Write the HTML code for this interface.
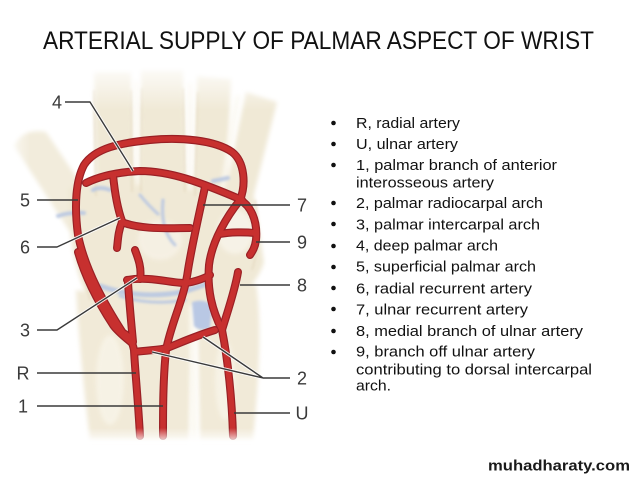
<!DOCTYPE html>
<html>
<head>
<meta charset="utf-8">
<style>
  html, body { margin: 0; padding: 0; background: #ffffff; }
  body { width: 638px; height: 479px; overflow: hidden; }
  svg { display: block; }
  .t { font-family: "Liberation Sans", Arial, sans-serif; }
</style>
</head>
<body>
<svg width="638" height="479" viewBox="0 0 638 479" xmlns="http://www.w3.org/2000/svg">
  <defs>
    <filter id="soft" x="-20%" y="-20%" width="140%" height="140%">
      <feGaussianBlur stdDeviation="2.2"/>
    </filter>
    <filter id="soft2" x="-20%" y="-20%" width="140%" height="140%">
      <feGaussianBlur stdDeviation="1.2"/>
    </filter>
    <linearGradient id="fadeTop" x1="0" y1="0" x2="0" y2="1">
      <stop offset="0" stop-color="#ffffff" stop-opacity="1"/>
      <stop offset="1" stop-color="#ffffff" stop-opacity="0"/>
    </linearGradient>
    <linearGradient id="fadeBot" x1="0" y1="0" x2="0" y2="1">
      <stop offset="0" stop-color="#ffffff" stop-opacity="0"/>
      <stop offset="1" stop-color="#ffffff" stop-opacity="1"/>
    </linearGradient>
    <linearGradient id="fadeLeft" x1="0" y1="0" x2="1" y2="0">
      <stop offset="0" stop-color="#ffffff" stop-opacity="1"/>
      <stop offset="1" stop-color="#ffffff" stop-opacity="0"/>
    </linearGradient>
  </defs>

  <!-- Title -->
  <text class="t" x="43" y="49" font-size="25" fill="#111" textLength="551" lengthAdjust="spacingAndGlyphs">ARTERIAL SUPPLY OF PALMAR ASPECT OF WRIST</text>

  <!-- ===== Illustration: bones ===== -->
  <g filter="url(#soft)">
    <path d="M14,146 Q22,128 46,132 L96,206 L70,232 Z" fill="#f2ecdc"/>
    <path d="M94,72 L131,72 L134,192 L97,196 Z" fill="#f0e9d6"/>
    <path d="M141,70 L183,70 L186,192 L140,192 Z" fill="#f0e9d6"/>
    <path d="M197,76 L231,79 L226,200 L194,196 Z" fill="#f0e9d6"/>
    <path d="M246,92 L277,102 L252,202 L224,196 Z" fill="#f0e9d6"/>
    <path d="M68,188 Q150,166 252,184 L264,262 Q252,302 200,306 L90,302 Q68,262 68,188 Z" fill="#f0e9d6"/>
    <path d="M76,290 Q132,302 193,294 L189,440 L90,440 Q80,360 76,290 Z" fill="#f1ead8"/>
    <path d="M197,302 L256,284 Q264,330 253,440 L200,440 Z" fill="#f1ead8"/>
  </g>
  <!-- bone highlights / gaps / shading -->
  <g filter="url(#soft)" opacity="0.85">
    <path d="M136,80 L138,185" stroke="#fbf8f0" stroke-width="5" fill="none"/>
    <path d="M190,82 L190,190" stroke="#fbf8f0" stroke-width="5" fill="none"/>
    <path d="M238,95 L222,190" stroke="#fbf8f0" stroke-width="5" fill="none"/>
    <path d="M192,305 L194,440" stroke="#fbf8ef" stroke-width="6" fill="none"/>
    <ellipse cx="235" cy="232" rx="18" ry="22" fill="#f8f4ea"/>
    <ellipse cx="110" cy="380" rx="14" ry="45" fill="#f8f4e8"/>
    <ellipse cx="225" cy="380" rx="10" ry="40" fill="#f8f4e8"/>
    <ellipse cx="160" cy="240" rx="22" ry="20" fill="#f7f2e6"/>
  </g>
  <g filter="url(#soft2)" fill="none" stroke="#e2d6bb" stroke-width="1.5" opacity="0.8">
    <path d="M96,196 L94,90"/>
    <path d="M132,192 L131,90"/>
    <path d="M141,192 L142,88"/>
    <path d="M185,192 L183,88"/>
    <path d="M195,196 L198,92"/>
    <path d="M90,300 Q80,260 72,200"/>
    <path d="M252,270 Q262,240 255,200"/>
  </g>
  <!-- blue cartilage -->
  <g filter="url(#soft2)" fill="none" stroke="#b7c6e2" stroke-linecap="round" opacity="0.9">
    <path d="M100,286 Q140,300 182,292 Q196,288 206,284" stroke-width="5"/>
    <path d="M120,296 Q150,306 185,300" stroke-width="3"/>
    <path d="M58,216 Q70,212 84,213" stroke-width="4"/>
    <path d="M93,190 Q100,186 110,190" stroke-width="4"/>
    <path d="M213,181 L228,178" stroke-width="4"/>
    <path d="M140,195 Q148,205 158,214" stroke-width="3"/>
    <path d="M163,200 Q160,230 175,245" stroke-width="3"/>
  </g>
  <path d="M192,302 Q205,298 212,306 L210,328 Q200,332 194,326 Z" fill="#b9c8e4" filter="url(#soft2)"/>

  <!-- fades -->
  <rect x="0" y="60" width="300" height="50" fill="url(#fadeTop)"/>
  <rect x="0" y="100" width="30" height="100" fill="url(#fadeLeft)"/>

  <!-- ===== Arteries ===== -->
  <g fill="none" stroke-linecap="round" stroke-linejoin="round">
    <g stroke="#9a2025" stroke-width="8">
      <path d="M123,333 C105,305 85,270 78,235 C74,205 76,180 84,165 C95,148 120,143 150,140 C180,137 215,140 232,152 C245,162 246,185 240,200 C228,215 212,240 209,265 C207,290 212,310 222,330"/>
      <path d="M86,183 C100,176 120,172 140,171 C170,171 200,182 242,200"/>
      <path d="M113,175 C115,195 118,210 122,221"/>
      <path d="M122,222 C140,230 170,228 190,228"/>
      <path d="M122,222 C118,232 118,240 117,248"/>
      <path d="M205,187 C200,210 192,245 188,270 C184,300 172,320 166,350 C163,380 163,410 163,436"/>
      <path d="M140,436 C138,400 135,370 134,350 C132,340 128,335 123,333"/>
      <path d="M78,252 C85,277 98,302 113,325 C118,332 126,338 132,343"/>
      <path d="M127,280 C150,276 170,283 185,283 C195,282 205,278 210,275"/>
      <path d="M140,279 C142,268 138,258 135,250"/>
      <path d="M128,282 C129,300 131,320 133,342"/>
      <path d="M135,352 C150,350 160,350 167,348 C180,343 195,336 215,330"/>
      <path d="M233,436 C232,400 228,360 222,330"/>
      <path d="M222,330 C228,310 235,290 238,272"/>
      <path d="M240,200 C250,205 258,220 256,240 C255,248 252,252 250,255"/>
      <path d="M220,234 C230,232 245,232 255,233"/>
    </g>
    <g stroke="#c7302f" stroke-width="5.6">
      <path d="M123,333 C105,305 85,270 78,235 C74,205 76,180 84,165 C95,148 120,143 150,140 C180,137 215,140 232,152 C245,162 246,185 240,200 C228,215 212,240 209,265 C207,290 212,310 222,330"/>
      <path d="M86,183 C100,176 120,172 140,171 C170,171 200,182 242,200"/>
      <path d="M113,175 C115,195 118,210 122,221"/>
      <path d="M122,222 C140,230 170,228 190,228"/>
      <path d="M122,222 C118,232 118,240 117,248"/>
      <path d="M205,187 C200,210 192,245 188,270 C184,300 172,320 166,350 C163,380 163,410 163,436"/>
      <path d="M140,436 C138,400 135,370 134,350 C132,340 128,335 123,333"/>
      <path d="M78,252 C85,277 98,302 113,325 C118,332 126,338 132,343"/>
      <path d="M127,280 C150,276 170,283 185,283 C195,282 205,278 210,275"/>
      <path d="M140,279 C142,268 138,258 135,250"/>
      <path d="M128,282 C129,300 131,320 133,342"/>
      <path d="M135,352 C150,350 160,350 167,348 C180,343 195,336 215,330"/>
      <path d="M233,436 C232,400 228,360 222,330"/>
      <path d="M222,330 C228,310 235,290 238,272"/>
      <path d="M240,200 C250,205 258,220 256,240 C255,248 252,252 250,255"/>
      <path d="M220,234 C230,232 245,232 255,233"/>
    </g>
  </g>
  <rect x="0" y="428" width="300" height="16" fill="url(#fadeBot)"/>

  <!-- ===== Leader lines ===== -->
  <g fill="none" stroke-linejoin="round">
    <g stroke="#ffffff" stroke-width="3.2" opacity="0.9">
      <path d="M90,102 L133,171"/>
      <path d="M57,247 L120,218"/>
      <path d="M57,330 L137,278"/>
      <path d="M263,378 L152,352 M263,378 L203,337"/>
    </g>
    <g stroke="#3a3a3a" stroke-width="1.4">
      <path d="M65,102 H90 L133,171"/>
      <path d="M37,200 H78"/>
      <path d="M37,247 H57 L120,218"/>
      <path d="M37,330 H57 L137,278"/>
      <path d="M37,373 H136"/>
      <path d="M37,406 H163"/>
      <path d="M290,205 H203"/>
      <path d="M290,242 H256"/>
      <path d="M290,285 H240"/>
      <path d="M290,378 H263 L152,352 M263,378 L203,337"/>
      <path d="M290,413 H234"/>
    </g>
  </g>

  <!-- Labels -->
  <g class="t" font-size="18" fill="#3a3a3a" text-anchor="middle">
    <text x="57" y="108.5">4</text>
    <text x="25" y="206.5">5</text>
    <text x="25" y="253.5">6</text>
    <text x="25" y="336.5">3</text>
    <text x="23" y="379.5">R</text>
    <text x="23" y="412.5">1</text>
    <text x="302" y="211.5">7</text>
    <text x="302" y="248.5">9</text>
    <text x="302" y="291.5">8</text>
    <text x="302" y="384.5">2</text>
    <text x="302" y="419.5">U</text>
  </g>

  <!-- ===== Bullet list ===== -->
  <g fill="#111">
    <circle cx="333.5" cy="123" r="2.3"/>
    <circle cx="333.5" cy="144" r="2.3"/>
    <circle cx="333.5" cy="165" r="2.3"/>
    <circle cx="333.5" cy="203" r="2.3"/>
    <circle cx="333.5" cy="224" r="2.3"/>
    <circle cx="333.5" cy="246" r="2.3"/>
    <circle cx="333.5" cy="267" r="2.3"/>
    <circle cx="333.5" cy="288" r="2.3"/>
    <circle cx="333.5" cy="309" r="2.3"/>
    <circle cx="333.5" cy="331" r="2.3"/>
    <circle cx="333.5" cy="352" r="2.3"/>
  </g>
  <g class="t" font-size="15" fill="#111">
    <text x="356" y="128" textLength="104" lengthAdjust="spacingAndGlyphs">R, radial artery</text>
    <text x="356" y="149" textLength="102" lengthAdjust="spacingAndGlyphs">U, ulnar artery</text>
    <text x="356" y="170" textLength="201" lengthAdjust="spacingAndGlyphs">1, palmar branch of anterior</text>
    <text x="356" y="187.5" textLength="138" lengthAdjust="spacingAndGlyphs">interosseous artery</text>
    <text x="356" y="208" textLength="187" lengthAdjust="spacingAndGlyphs">2, palmar radiocarpal arch</text>
    <text x="356" y="229.3" textLength="184" lengthAdjust="spacingAndGlyphs">3, palmar intercarpal arch</text>
    <text x="356" y="250.7" textLength="142" lengthAdjust="spacingAndGlyphs">4, deep palmar arch</text>
    <text x="356" y="271.7" textLength="180" lengthAdjust="spacingAndGlyphs">5, superficial palmar arch</text>
    <text x="356" y="293.3" textLength="176" lengthAdjust="spacingAndGlyphs">6, radial recurrent artery</text>
    <text x="356" y="314.3" textLength="172" lengthAdjust="spacingAndGlyphs">7, ulnar recurrent artery</text>
    <text x="356" y="336" textLength="227" lengthAdjust="spacingAndGlyphs">8, medial branch of ulnar artery</text>
    <text x="356" y="356.7" textLength="179" lengthAdjust="spacingAndGlyphs">9, branch off ulnar artery</text>
    <text x="356" y="374.3" textLength="236" lengthAdjust="spacingAndGlyphs">contributing to dorsal intercarpal</text>
    <text x="356" y="390.7" textLength="35" lengthAdjust="spacingAndGlyphs">arch.</text>
  </g>

  <!-- Watermark -->
  <text class="t" x="488" y="470.5" font-size="15" font-weight="bold" fill="#1a1a1a" textLength="142" lengthAdjust="spacingAndGlyphs">muhadharaty.com</text>
</svg>
</body>
</html>
